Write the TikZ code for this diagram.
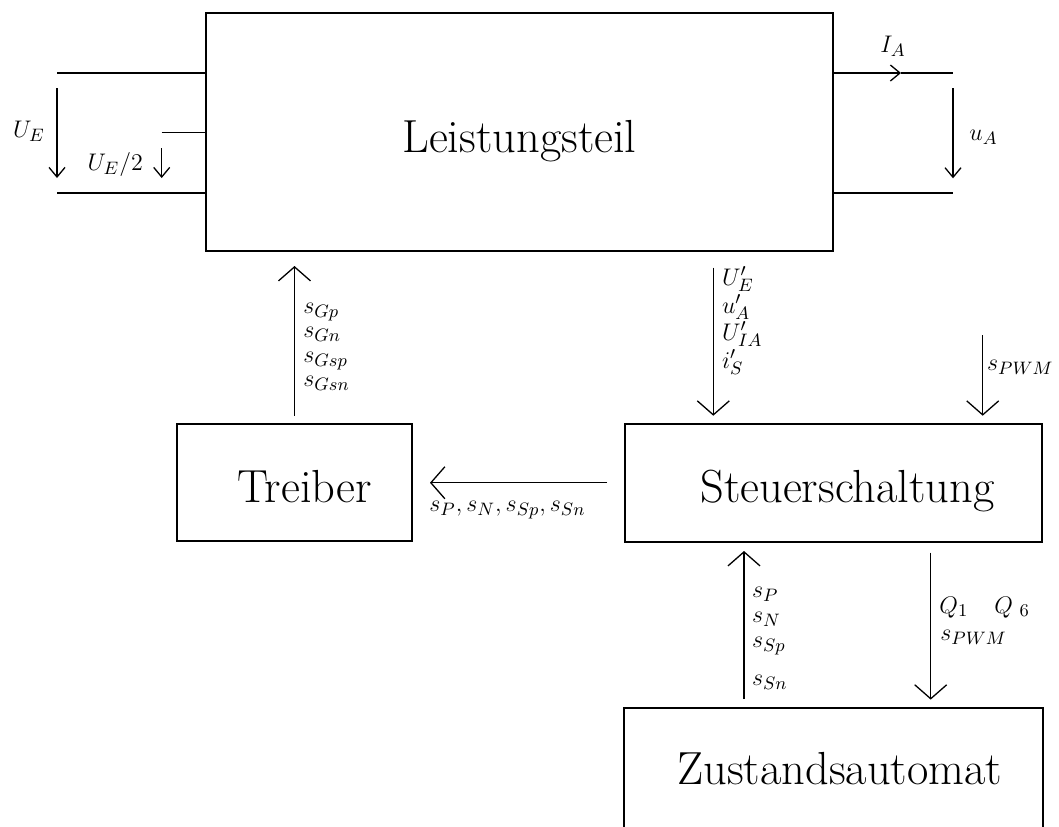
\documentclass[tikz,border=0pt]{standalone}
\usetikzlibrary{arrows.meta}
\DeclareMathSizes{12.5}{12.5}{9.5}{7}
\begin{document}
\begin{tikzpicture}[x=0.5pt,y=-0.5pt,
  box/.style={draw, line width=1pt, inner sep=0pt},
  big/.style={font=\fontsize{23.2}{28}\selectfont, inner sep=0pt, anchor=base west},
  lbl/.style={font=\fontsize{12.5}{15}\selectfont, inner sep=0pt, anchor=base west},
  conn/.style={line width=0.65pt},
  bigarr/.style={conn, -{Straight Barb[length=7pt,width=16pt]}},
  smallarr/.style={conn, -{Straight Barb[length=4.8pt,width=8pt]}},
]
\clip (0,0) rectangle (1059,826);
% boxes
\node[box, minimum width=313.5pt, minimum height=119pt] (ls) at (519.5,132) {};
\node[box, minimum width=117.5pt, minimum height=58.75pt] (tr) at (294.5,482.25) {};
\node[box, minimum width=208.25pt, minimum height=59.25pt] (st) at (833.25,482.75) {};
\node[box, minimum width=209.25pt, minimum height=96pt] (za) at (833.25,804) {};
% box texts
\node[big] (lst) at (402,152) {Leistungsteil};
\node[big] (trt) at (237,502) {Treiber};
\node[big] (stt) at (700,502) {Steuerschaltung};
\node[big] (zat) at (677,784) {Zustandsautomat};
% left terminals
\coordinate (l1) at (57,73);
\coordinate (l2) at (161.7,132.3);
\coordinate (l3) at (57,193);
\draw[conn] (l1) -- (l1 -| ls.west);
\draw[conn] (l2) -- (l2 -| ls.west);
\draw[conn] (l3) -- (l3 -| ls.west);
\coordinate (ue1) at (57,88.3);
\coordinate (ue2) at (57,178);
\draw[smallarr] (ue1) -- (ue2);
\coordinate (uh1) at (161.7,148);
\coordinate (uh2) at (161.7,178);
\draw[smallarr] (uh1) -- (uh2);
\node[lbl] (ueL) at (12.7,137) {$U_E$};
\node[lbl] (uhL) at (87.3,170) {$U_E/2$};
% right terminals
\coordinate (r1) at (953,73);
\coordinate (ia) at (901,73);
\coordinate (r2) at (953,193);
\draw[smallarr] (ia -| ls.east) -- (ia);
\draw[conn] (ia) -- (r1);
\draw[conn] (r2 -| ls.east) -- (r2);
\coordinate (ua1) at (953,88.3);
\coordinate (ua2) at (953,178.3);
\draw[smallarr] (ua1) -- (ua2);
\node[lbl] (iaL) at (880,52) {$I_A$};
\node[lbl] (uaL) at (969,140) {$u_A$};
% Leistungsteil -> Steuerschaltung
\coordinate (uX) at (713.3,0);
\draw[bigarr, shorten <=7.8pt, shorten >=3.4pt] (uX |- ls.south) -- (uX |- st.north);
\node[lbl] (m1) at (721.7,285) {$U'_E$};
\node[lbl] (m2) at (721.7,313) {$u'_A$};
\node[lbl] (m3) at (721.7,340) {$U'_{IA}$};
\node[lbl] (m4) at (721.7,368) {$i'_S$};
% s_PWM input
\coordinate (pw) at (982.7,335);
\draw[bigarr, shorten >=3.4pt] (pw) -- (pw |- st.north);
\node[lbl] (pwL) at (986.7,370.7) {$s_{PWM}$};
% Treiber -> Leistungsteil
\draw[bigarr, shorten <=3.4pt, shorten >=7pt] (tr.north) -- (tr.north |- ls.south);
\node[lbl] (g1) at (303,313.3) {$s_{Gp}$};
\node[lbl] (g2) at (303,337) {$s_{Gn}$};
\node[lbl] (g3) at (303,362) {$s_{Gsp}$};
\node[lbl] (g4) at (303,386.7) {$s_{Gsn}$};
% Steuerschaltung -> Treiber
\draw[bigarr, shorten <=8.5pt, shorten >=8.5pt] (st.west) -- (st.west -| tr.east);
\node[lbl] (hL) at (429,511) {$s_P, s_N, s_{Sp}, s_{Sn}$};
% Zustandsautomat -> Steuerschaltung
\coordinate (zX) at (744,0);
\draw[bigarr, shorten <=4pt, shorten >=4pt] (zX |- za.north) -- (zX |- st.south);
\node[lbl] (z1) at (751.7,597) {$s_P$};
\node[lbl] (z2) at (751.7,622) {$s_N$};
\node[lbl] (z3) at (751.7,647) {$s_{Sp}$};
\node[lbl] (z4) at (751.7,685) {$s_{Sn}$};
% Steuerschaltung -> Zustandsautomat
\coordinate (dX) at (930.7,0);
\draw[bigarr, shorten <=4.8pt, shorten >=3.7pt] (dX |- st.south) -- (dX |- za.north);
\node[lbl] (q1) at (939,613) {$Q_1\hspace{13pt}Q\;{}_6$};
\node[lbl] (q2) at (940,640) {$s_{PWM}$};
\end{tikzpicture}
\end{document}
